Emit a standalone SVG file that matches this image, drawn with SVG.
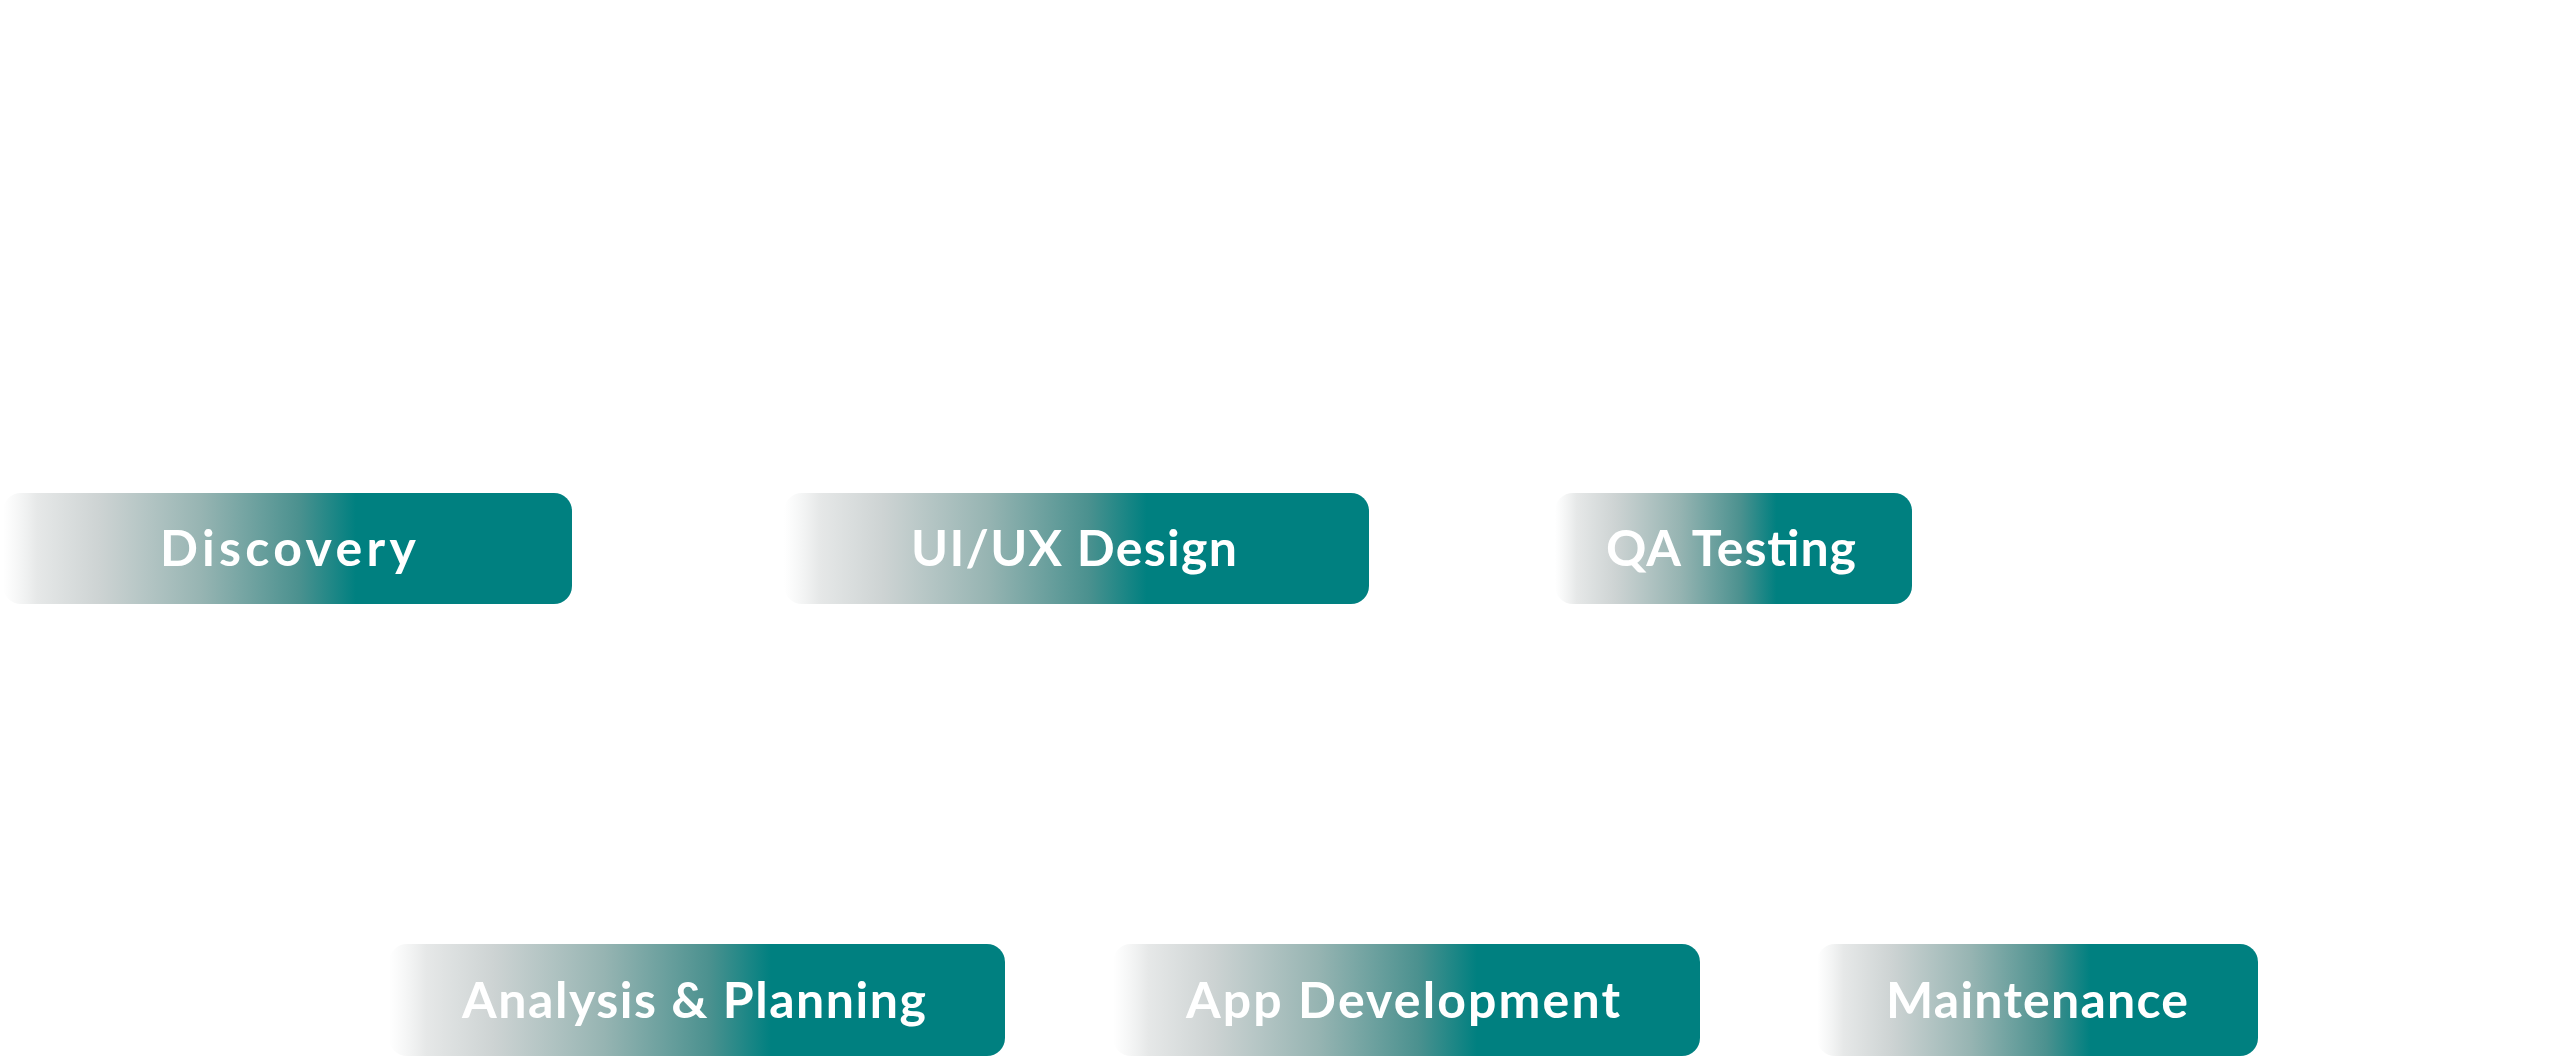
<svg xmlns="http://www.w3.org/2000/svg" width="2560" height="1057" viewBox="0 0 2560 1057">
<style>
  .box { fill: url(#fade); }
  .label { fill: #ffffff; font-family: Lato, "Open Sans", "Liberation Sans", sans-serif; font-weight: 700; font-size: 50px; text-anchor: middle; }
</style>
<defs>
  <linearGradient id="fade" x1="0" y1="0" x2="1" y2="0">
    <stop offset="0" stop-color="#eceeee" stop-opacity="0"/>
    <stop offset="0.06" stop-color="#e6e8e8" stop-opacity="1"/>
    <stop offset="0.17" stop-color="#cdd3d3"/>
    <stop offset="0.35" stop-color="#96b4b2"/>
    <stop offset="0.52" stop-color="#4b918f"/>
    <stop offset="0.62" stop-color="#008080"/>
    <stop offset="1" stop-color="#008080"/>
  </linearGradient>
</defs>
<rect width="2560" height="1057" fill="#ffffff"/>
<g id="connectors"/>
<g id="discovery">
  <rect class="box" x="3" y="493" width="569" height="111" rx="18"/>
  <text class="label" x="288" y="566" textLength="256" lengthAdjust="spacing">Discovery</text>
</g>
<g id="uiux-design">
  <rect class="box" x="784" y="493" width="585" height="111" rx="18"/>
  <text class="label" x="1074" y="566" textLength="326" lengthAdjust="spacing">UI/UX Design</text>
</g>
<g id="qa-testing">
  <rect class="box" x="1555" y="493" width="357" height="111" rx="18"/>
  <text class="label" x="1731" y="566" textLength="250" lengthAdjust="spacing">QA Testing</text>
</g>
<g id="analysis-planning">
  <rect class="box" x="389" y="944" width="616" height="112" rx="18"/>
  <text class="label" x="694" y="1018" textLength="464" lengthAdjust="spacing">Analysis &amp; Planning</text>
</g>
<g id="app-development">
  <rect class="box" x="1113" y="944" width="587" height="112" rx="18"/>
  <text class="label" x="1403" y="1018" textLength="434" lengthAdjust="spacing">App Development</text>
</g>
<g id="maintenance">
  <rect class="box" x="1817" y="944" width="441" height="112" rx="18"/>
  <text class="label" x="2037" y="1018" textLength="302" lengthAdjust="spacing">Maintenance</text>
</g>
</svg>
